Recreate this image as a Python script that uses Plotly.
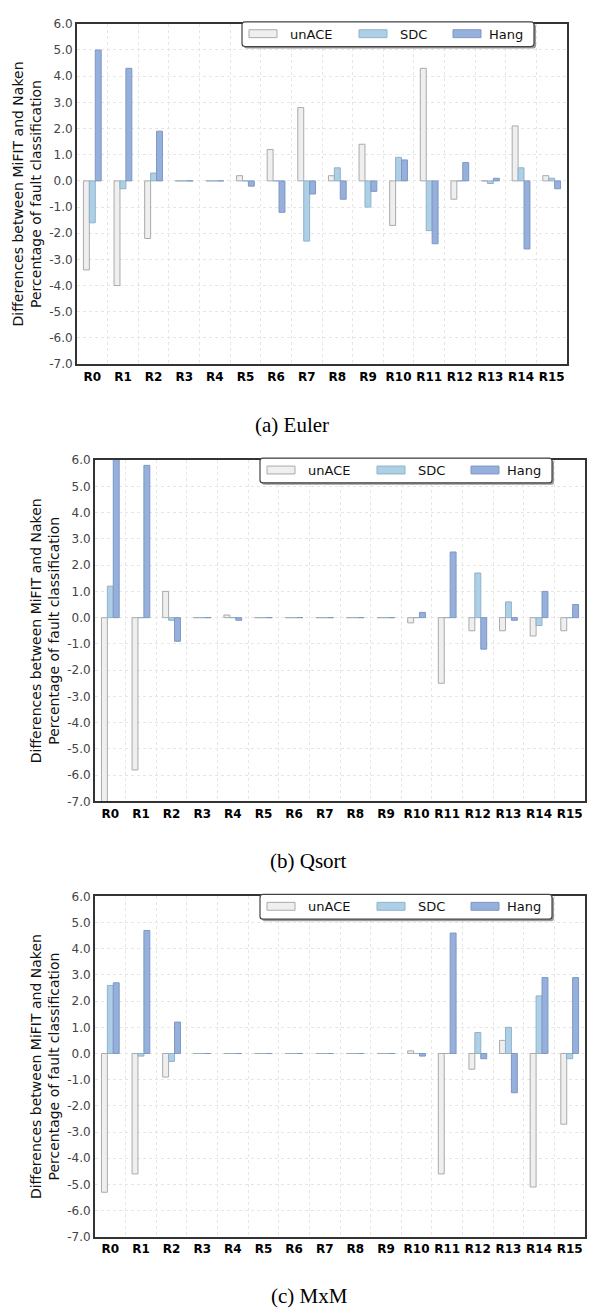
import plotly.graph_objects as go
from plotly.subplots import make_subplots

W, H = 590, 1313

categories = ["R%d" % i for i in range(16)]
series_names = ["unACE", "SDC", "Hang"]

euler_unace = [-3.4, -4.0, -2.2, 0.0, 0.0, 0.2, 1.2, 2.8, 0.2, 1.4, -1.7, 4.3, -0.7, 0.0, 2.1, 0.2]
euler_sdc   = [-1.6, -0.3, 0.3, 0.0, 0.0, 0.0, 0.0, -2.3, 0.5, -1.0, 0.9, -1.9, 0.0, -0.1, 0.5, 0.1]
euler_hang  = [5.0, 4.3, 1.9, 0.0, 0.0, -0.2, -1.2, -0.5, -0.7, -0.4, 0.8, -2.4, 0.7, 0.1, -2.6, -0.3]

qsort_unace = [-7.2, -5.8, 1.0, 0.0, 0.1, 0.0, 0.0, 0.0, 0.0, 0.0, -0.2, -2.5, -0.5, -0.5, -0.7, -0.5]
qsort_sdc   = [1.2, 0.0, -0.1, 0.0, 0.0, 0.0, 0.0, 0.0, 0.0, 0.0, 0.0, 0.0, 1.7, 0.6, -0.3, 0.0]
qsort_hang  = [6.1, 5.8, -0.9, 0.0, -0.1, 0.0, 0.0, 0.0, 0.0, 0.0, 0.2, 2.5, -1.2, -0.1, 1.0, 0.5]

mxm_unace = [-5.3, -4.6, -0.9, 0.0, 0.0, 0.0, 0.0, 0.0, 0.0, 0.0, 0.1, -4.6, -0.6, 0.5, -5.1, -2.7]
mxm_sdc   = [2.6, -0.1, -0.3, 0.0, 0.0, 0.0, 0.0, 0.0, 0.0, 0.0, 0.0, 0.0, 0.8, 1.0, 2.2, -0.2]
mxm_hang  = [2.7, 4.7, 1.2, 0.0, 0.0, 0.0, 0.0, 0.0, 0.0, 0.0, -0.1, 4.6, -0.2, -1.5, 2.9, 2.9]

captions = ["(a) Euler", "(b) Qsort", "(c) MxM"]
y_ticks = [-7, -6, -5, -4, -3, -2, -1, 0, 1, 2, 3, 4, 5, 6]
y_title = "Differences between MiFIT and Naken<br>Percentage of fault classification"

panels = [
    (euler_unace, euler_sdc, euler_hang),
    (qsort_unace, qsort_sdc, qsort_hang),
    (mxm_unace, mxm_sdc, mxm_hang),
]

fill_colors = ["#efefef", "#aed0e6", "#95b0dc"]
line_colors = ["#aaaaaa", "#8fb2c9", "#7f97c2"]

# plot areas in pixels: (left, top, right, bottom)
areas = [
    (77, 17, 567, 361),
    (95, 458, 585, 803),
    (95, 899, 585, 1243),
]
caption_pos = [(292, 422), (308, 863), (309, 1303)]


def px(x):
    return x / W


def py(y):
    return 1 - y / H


def rounded_rect(x0, y0, x1, y1, r):
    pts = [
        ("M", x0 + r, y0), ("L", x1 - r, y0), ("Q", x1, y0, x1, y0 + r),
        ("L", x1, y1 - r), ("Q", x1, y1, x1 - r, y1),
        ("L", x0 + r, y1), ("Q", x0, y1, x0, y1 - r),
        ("L", x0, y0 + r), ("Q", x0, y0, x0 + r, y0),
    ]
    out = []
    for p in pts:
        cmd = p[0]
        coords = p[1:]
        s = cmd
        for k in range(0, len(coords), 2):
            s += " %.6f,%.6f" % (px(coords[k]), py(coords[k + 1]))
        out.append(s)
    return " ".join(out) + " Z"


fig = make_subplots(rows=3, cols=1)

for i, vals in enumerate(panels):
    for j, name in enumerate(series_names):
        fig.add_trace(
            go.Bar(
                x=categories,
                y=vals[j],
                name=name,
                showlegend=False,
                marker=dict(color=fill_colors[j],
                            line=dict(color=line_colors[j], width=1)),
            ),
            row=i + 1, col=1,
        )

shapes = []
annotations = []
for i, (L, T, R, B) in enumerate(areas):
    xa = "xaxis" if i == 0 else "xaxis%d" % (i + 1)
    ya = "yaxis" if i == 0 else "yaxis%d" % (i + 1)
    fig.layout[xa].update(
        domain=[px(L), px(R)],
        type="category",
        tickson="boundaries",
        tickangle=0,
        showgrid=True, gridcolor="#e6e6e6", griddash="dot", gridwidth=1,
        ticks="", ticklen=0,
        showline=True, linecolor="#333333", linewidth=2, mirror=True,
        tickfont=dict(family="DejaVu Sans", size=12, color="#000000", weight="bold"),
        fixedrange=True,
    )
    fig.layout[ya].update(
        domain=[py(B), py(T)],
        range=[-7, 6],
        tickmode="array", tickvals=y_ticks,
        ticktext=["%.1f" % v for v in y_ticks],
        showgrid=True, gridcolor="#e6e6e6", griddash="dot", gridwidth=1,
        zeroline=False,
        ticks="", ticklen=0,
        showline=True, linecolor="#333333", linewidth=2, mirror=True,
        tickfont=dict(family="DejaVu Sans", size=12, color="#444444"),
        title=dict(text=y_title, standoff=4,
                   font=dict(family="DejaVu Sans", size=14, color="#111111")),
        fixedrange=True,
    )

    # legend box (drawn manually with wide swatches)
    bx0, bx1 = R - 325, R - 33
    by0, by1 = T - 2, T + 23
    shapes.append(dict(type="path", xref="paper", yref="paper",
                       path=rounded_rect(bx0 + 2, by0 + 2, bx1 + 2, by1 + 2, 3),
                       fillcolor="#9a9a9a", line=dict(width=0), layer="above"))
    shapes.append(dict(type="path", xref="paper", yref="paper",
                       path=rounded_rect(bx0, by0, bx1, by1, 3),
                       fillcolor="#ffffff", line=dict(color="#444444", width=1.2),
                       layer="above"))
    sw_x = [7, 117, 211]
    tx_x = [46, 156, 245]
    for j, name in enumerate(series_names):
        shapes.append(dict(type="rect", xref="paper", yref="paper",
                           x0=px(bx0 + sw_x[j]), x1=px(bx0 + sw_x[j] + 28),
                           y0=py(by0 + 16), y1=py(by0 + 8),
                           fillcolor=fill_colors[j],
                           line=dict(color=line_colors[j], width=1), layer="above"))
        annotations.append(dict(text=name, xref="paper", yref="paper",
                                x=px(bx0 + tx_x[j]), y=py((by0 + by1) / 2),
                                xanchor="left", yanchor="middle", showarrow=False,
                                font=dict(family="DejaVu Sans", size=13, color="#111111")))

    cx, cy = caption_pos[i]
    annotations.append(dict(text=captions[i], xref="paper", yref="paper",
                            x=px(cx), y=py(cy), xanchor="center", yanchor="middle",
                            showarrow=False,
                            font=dict(family="Liberation Serif", size=21, color="#000000")))

fig.update_layout(
    width=W, height=H,
    margin=dict(l=0, r=0, t=0, b=0),
    paper_bgcolor="#ffffff",
    plot_bgcolor="#ffffff",
    barmode="group",
    bargap=0.42,
    bargroupgap=0,
    showlegend=False,
    shapes=shapes,
    annotations=annotations,
)

fig.write_html("out.html")
